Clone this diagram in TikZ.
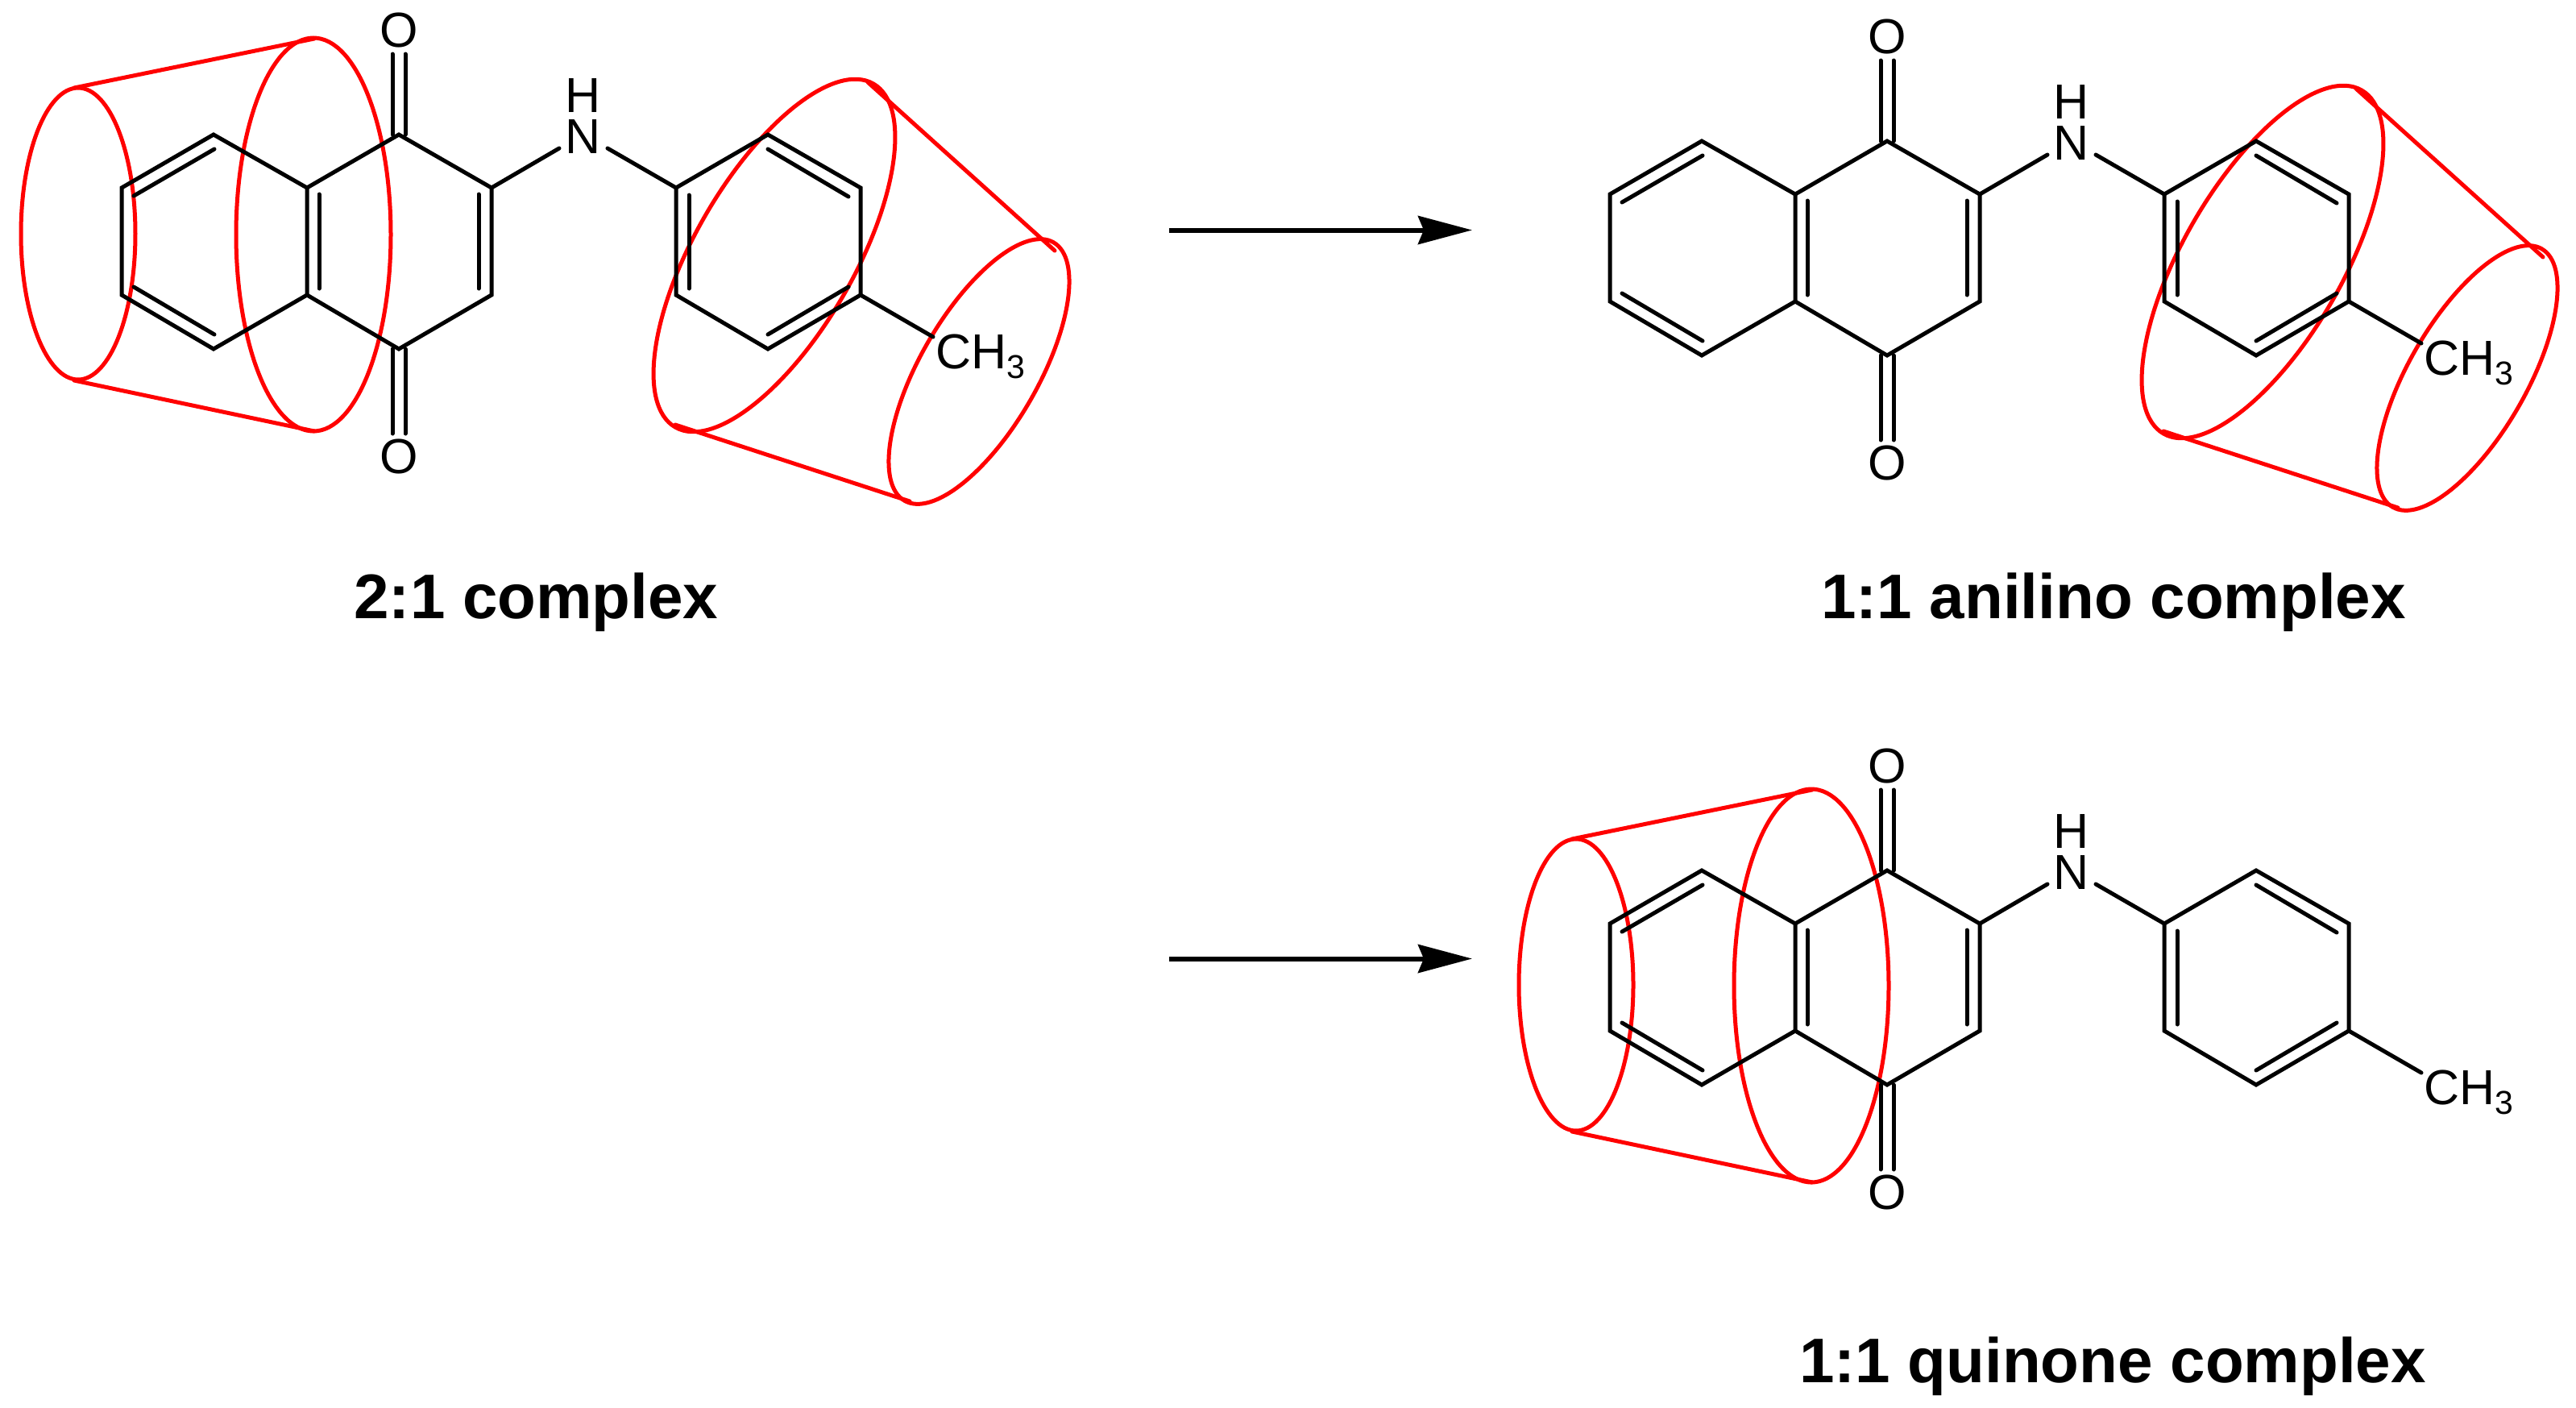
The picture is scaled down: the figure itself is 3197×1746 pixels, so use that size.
\documentclass[tikz,border=0pt]{standalone}
\usepackage{fontspec}
\setmainfont{Liberation Sans}
\usetikzlibrary{arrows.meta}
\definecolor{hostred}{RGB}{255,0,0}
\tikzset{
  bond/.style={draw=black,line width=5pt,line cap=round,line join=miter},
  host/.style={draw=hostred,line width=5pt,line cap=round},
  atomlabel/.style={inner sep=0pt,font=\fontsize{61}{61}\selectfont},
  caption/.style={inner sep=0pt,anchor=base,font=\fontsize{78.2}{78}\selectfont\bfseries},
  reaction/.style={draw=black,line width=6pt,-{Stealth[length=67pt,width=35pt,inset=7pt]}}
}
% molecule skeleton: #1 = name prefix, #2 = shift
\newcommand{\quinonemol}[2]{%
\begin{scope}[shift={(#2)}]
  \coordinate (#1a1) at (265,167);
  \coordinate (#1a2) at (151,233);
  \coordinate (#1a3) at (151,366);
  \coordinate (#1a4) at (265,433);
  \coordinate (#1j1) at (381,233);
  \coordinate (#1j2) at (381,366);
  \coordinate (#1c1) at (495,167);
  \coordinate (#1c2) at (610,233);
  \coordinate (#1c3) at (610,366);
  \coordinate (#1c4) at (495,433);
  \coordinate (#1p1) at (839,233);
  \coordinate (#1p2) at (953,167);
  \coordinate (#1p3) at (1068,233);
  \coordinate (#1p4) at (1068,366);
  \coordinate (#1p5) at (953,433);
  \coordinate (#1p6) at (839,366);
  \coordinate (#1na) at (694,184);
  \coordinate (#1nb) at (754,184);
  \coordinate (#1me) at (1158,418);
  \coordinate (#1o1a) at (487,167);
  \coordinate (#1o1b) at (487,67);
  \coordinate (#1o1c) at (503,167);
  \coordinate (#1o1d) at (503,67);
  \coordinate (#1o2a) at (487,433);
  \coordinate (#1o2b) at (487,538);
  \coordinate (#1o2c) at (503,433);
  \coordinate (#1o2d) at (503,538);
  \coordinate (#1i1a) at (166,243);
  \coordinate (#1i1b) at (266,185);
  \coordinate (#1i2a) at (166,356);
  \coordinate (#1i2b) at (266,415);
  \coordinate (#1i3a) at (396,241);
  \coordinate (#1i3b) at (396,358);
  \coordinate (#1i4a) at (594,241);
  \coordinate (#1i4b) at (594,358);
  \coordinate (#1i5a) at (855,242);
  \coordinate (#1i5b) at (855,358);
  \coordinate (#1i6a) at (953,185);
  \coordinate (#1i6b) at (1053,244);
  \coordinate (#1i7a) at (953,415);
  \coordinate (#1i7b) at (1053,356);
  \node[atomlabel] (#1ot) at (495,37) {O};
  \node[atomlabel] (#1ob) at (495,566) {O};
  \node[atomlabel] (#1n) at (723.5,170) {N};
  \node[atomlabel] (#1h) at (723.5,119) {H};
  \node[atomlabel,anchor=base west] (#1ch) at (1161,457) {CH\raisebox{-12pt}{\fontsize{41}{41}\selectfont 3}};
  \draw[bond] (#1a1) -- (#1a2) -- (#1a3) -- (#1a4) -- (#1j2) -- (#1j1) -- cycle;
  \draw[bond] (#1j1) -- (#1c1) -- (#1c2) -- (#1c3) -- (#1c4) -- (#1j2);
  \draw[bond] (#1p1) -- (#1p2) -- (#1p3) -- (#1p4) -- (#1p5) -- (#1p6) -- cycle;
  \draw[bond] (#1c2) -- (#1na);
  \draw[bond] (#1nb) -- (#1p1);
  \draw[bond] (#1p4) -- (#1me);
  \draw[bond] (#1o1a) -- (#1o1b);
  \draw[bond] (#1o1c) -- (#1o1d);
  \draw[bond] (#1o2a) -- (#1o2b);
  \draw[bond] (#1o2c) -- (#1o2d);
  \draw[bond] (#1i1a) -- (#1i1b);
  \draw[bond] (#1i2a) -- (#1i2b);
  \draw[bond] (#1i3a) -- (#1i3b);
  \draw[bond] (#1i4a) -- (#1i4b);
  \draw[bond] (#1i5a) -- (#1i5b);
  \draw[bond] (#1i6a) -- (#1i6b);
  \draw[bond] (#1i7a) -- (#1i7b);
\end{scope}}
% cyclodextrin on the quinone end
\newcommand{\quinonehost}[2]{%
\begin{scope}[shift={(#2)}]
  \coordinate (#1t1) at (92,109);
  \coordinate (#1t2) at (390,48);
  \coordinate (#1b1) at (92,472);
  \coordinate (#1b2) at (390,535);
  \draw[host] (97,290) ellipse [x radius=71,y radius=181];
  \draw[host] (389,291) ellipse [x radius=96,y radius=244];
  \draw[host] (#1t1) -- (#1t2);
  \draw[host] (#1b1) -- (#1b2);
\end{scope}}
% cyclodextrin on the anilino end
\newcommand{\anilinohost}[2]{%
\begin{scope}[shift={(#2)}]
  \coordinate (#1t1) at (1077,102);
  \coordinate (#1t2) at (1309,311);
  \coordinate (#1b1) at (838,527);
  \coordinate (#1b2) at (1129,622);
  \draw[host] (961,317) ellipse [x radius=246,y radius=99,rotate=60];
  \draw[host] (1215,461) ellipse [x radius=185,y radius=73,rotate=60];
  \draw[host] (#1t1) -- (#1t2);
  \draw[host] (#1b1) -- (#1b2);
\end{scope}}
\begin{document}
\begin{tikzpicture}[x=1pt,y=-1pt]
  \useasboundingbox (0,0) rectangle (3197,1746);
  \quinonehost{ha}{0,0}
  \anilinohost{hb}{0,0}
  \quinonemol{ma}{0,0}
  \anilinohost{hc}{1847,8}
  \quinonemol{mb}{1847,8}
  \quinonehost{hd}{1859,932}
  \quinonemol{mc}{1847,913}
  \coordinate (ar1s) at (1451,285.5);
  \coordinate (ar1e) at (1827,285.5);
  \coordinate (ar2s) at (1451,1189.5);
  \coordinate (ar2e) at (1827,1189.5);
  \draw[reaction] (ar1s) -- (ar1e);
  \draw[reaction] (ar2s) -- (ar2e);
  \node[caption] (cap1) at (665.5,767) {2:1 complex};
  \node[caption] (cap2) at (2623,767) {1:1 anilino complex};
  \node[caption] (cap3) at (2622,1715) {1:1 quinone complex};
\end{tikzpicture}
\end{document}
